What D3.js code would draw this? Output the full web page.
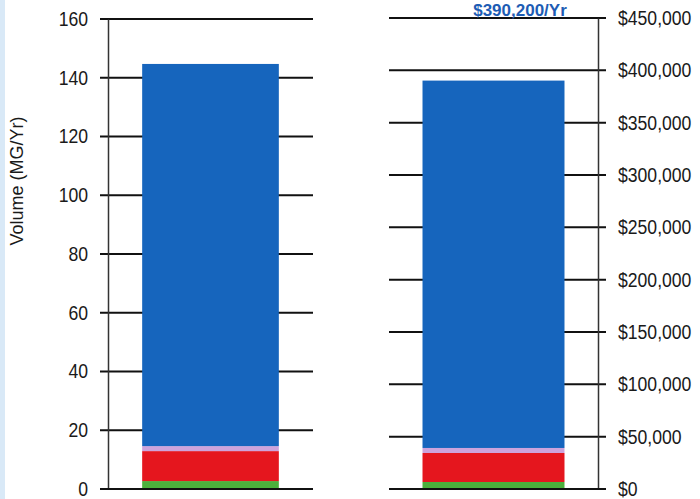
<!DOCTYPE html>
<html lang="en">
<head>
    <meta charset="UTF-8">
    <title>Volume and Cost</title>
    <script src="https://d3js.org/d3.v7.min.js"></script>
    <style>
        body { margin: 0; background: #fff; }
        text { font-family: "Liberation Sans", Arial, sans-serif; }
    </style>
</head>
<body>
    <div id="my_dataviz"></div>

    <script>
        // data
        const segments = ["green", "red", "lavender", "blue"];
        const segColors = ["#4cb03c", "#e5161e", "#cda3dc", "#1665bd"];
        const volumeValues = [2.7, 10.2, 1.7, 130.1];           // MG/Yr
        const costValues = [6700, 27700, 4800, 351000];          // $/Yr
        const volumeTicks = [0, 20, 40, 60, 80, 100, 120, 140, 160];
        const costTicks = [0, 50000, 100000, 150000, 200000, 250000, 300000, 350000, 400000, 450000];
        const costTitle = "$390,200/Yr";

        const W = 700, H = 499;

        const svg = d3.select("#my_dataviz")
            .append("svg")
            .attr("width", W)
            .attr("height", H);

        // light blue strip on the left edge of the scan
        svg.append("rect")
            .attr("x", 0).attr("y", 0)
            .attr("width", 5).attr("height", H)
            .attr("fill", "#d9e9f7");

        function stack(values) {
            let acc = 0;
            return values.map((v, i) => {
                const d = {key: segments[i], y0: acc, y1: acc + v, color: segColors[i]};
                acc += v;
                return d;
            });
        }

        // tick labels in the scan are a bit taller and narrower than Arial
        function styleLabels(sel) {
            sel.selectAll("text")
                .attr("font-size", 20)
                .attr("fill", "#1a1a1a")
                .each(function() {
                    const w = this.getComputedTextLength();
                    d3.select(this)
                        .attr("textLength", w * 0.88)
                        .attr("lengthAdjust", "spacingAndGlyphs");
                });
        }

        // ---------- left chart: volume ----------
        const yL = d3.scaleLinear().domain([0, 160]).range([489, 19]);
        const xL = d3.scaleBand().domain(["Volume"]).range([108, 313]).paddingOuter(0.25);

        // gridlines
        svg.append("g")
            .selectAll("line")
            .data(volumeTicks)
            .join("line")
                .attr("x1", 100).attr("x2", 313)
                .attr("y1", d => yL(d)).attr("y2", d => yL(d))
                .attr("stroke", "#111")
                .attr("stroke-width", 2);

        svg.append("g")
            .selectAll("rect")
            .data(stack(volumeValues))
            .join("rect")
                .attr("x", xL("Volume"))
                .attr("width", xL.bandwidth())
                .attr("y", d => yL(d.y1))
                .attr("height", d => yL(d.y0) - yL(d.y1))
                .attr("fill", d => d.color);

        // axis line + labels
        const axL = svg.append("g")
            .attr("transform", "translate(108,0)")
            .call(d3.axisLeft(yL).tickValues(volumeTicks).tickSize(0).tickPadding(20));
        axL.select(".domain").attr("stroke", "#333").attr("stroke-width", 1.5);
        styleLabels(axL);

        svg.append("line")
            .attr("x1", 100).attr("x2", 313)
            .attr("y1", yL(0)).attr("y2", yL(0))
            .attr("stroke", "#111").attr("stroke-width", 2);

        svg.append("text")
            .attr("transform", "translate(23,181) rotate(-90)")
            .attr("text-anchor", "middle")
            .attr("font-size", 18)
            .attr("fill", "#1a1a1a")
            .text("Volume (MG/Yr)");

        // ---------- right chart: cost ----------
        const yR = d3.scaleLinear().domain([0, 450000]).range([489, 18]);
        const xR = d3.scaleBand().domain(["Cost"]).range([389, 598]).paddingOuter(0.236);

        svg.append("g")
            .selectAll("line")
            .data(costTicks)
            .join("line")
                .attr("x1", 389).attr("x2", 606)
                .attr("y1", d => yR(d)).attr("y2", d => yR(d))
                .attr("stroke", "#111")
                .attr("stroke-width", 2);

        svg.append("g")
            .selectAll("rect")
            .data(stack(costValues))
            .join("rect")
                .attr("x", xR("Cost"))
                .attr("width", xR.bandwidth())
                .attr("y", d => yR(d.y1))
                .attr("height", d => yR(d.y0) - yR(d.y1))
                .attr("fill", d => d.color);

        const axR = svg.append("g")
            .attr("transform", "translate(598,0)")
            .call(d3.axisRight(yR).tickValues(costTicks).tickSize(0).tickPadding(20)
                .tickFormat(d => "$" + d3.format(",")(d)));
        axR.select(".domain").attr("stroke", "#333").attr("stroke-width", 1.5);
        styleLabels(axR);

        svg.append("line")
            .attr("x1", 389).attr("x2", 606)
            .attr("y1", yR(0)).attr("y2", yR(0))
            .attr("stroke", "#111").attr("stroke-width", 2);

        svg.append("text")
            .attr("x", 520).attr("y", 15.5)
            .attr("text-anchor", "middle")
            .attr("font-size", 17)
            .attr("font-weight", "bold")
            .attr("fill", "#1d5cb4")
            .text(costTitle);
    </script>
</body>
</html>
